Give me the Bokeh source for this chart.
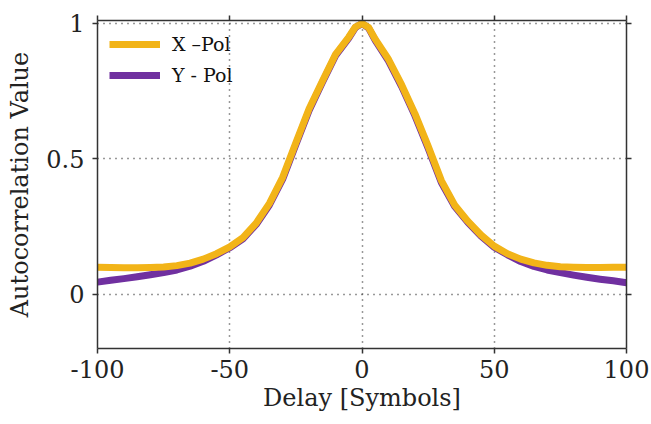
from bokeh.plotting import figure
from bokeh.models import Range1d, LinearAxis, FixedTicker, Legend, LegendItem, CustomJSTickFormatter
from bokeh.embed import file_html
from bokeh.resources import INLINE

delay = [-100, -95, -90, -85, -80, -75, -70, -65, -60, -55, -50, -45, -40, -35, -30, -25, -20, -15, -10, -5, -2.5,
         0, 2.5, 5, 10, 15, 20, 25, 30, 35, 40, 45, 50, 55, 60, 65, 70, 75, 80, 85, 90, 95, 100]
x_pol = [0.100, 0.099, 0.098, 0.098, 0.099, 0.101, 0.106, 0.115, 0.130, 0.150, 0.175, 0.209, 0.263, 0.336, 0.432,
         0.560, 0.685, 0.787, 0.886, 0.950, 0.987,
         1.000, 0.985, 0.942, 0.868, 0.773, 0.667, 0.547, 0.420, 0.330, 0.270, 0.219,
         0.178, 0.150, 0.130, 0.116, 0.107, 0.102, 0.100, 0.099, 0.099, 0.100, 0.100]
y_pol = [0.045, 0.052, 0.058, 0.065, 0.072, 0.080, 0.090, 0.104, 0.122, 0.146, 0.172, 0.205, 0.258, 0.330, 0.425,
         0.553, 0.679, 0.782, 0.881, 0.946, 0.985,
         1.000, 0.983, 0.938, 0.862, 0.767, 0.660, 0.540, 0.413, 0.325, 0.266, 0.215,
         0.174, 0.146, 0.121, 0.103, 0.090, 0.080, 0.071, 0.063, 0.056, 0.050, 0.043]
x_ticks = [-100, -50, 0, 50, 100]
y_ticks = [0, 0.5, 1]
series_names = ["X \u2013Pol", "Y - Pol"]

FONT = "DejaVu Serif"
AX = "#333333"

p = figure(width=651, height=424, output_backend="svg", toolbar_location=None,
           x_range=Range1d(-100, 100), y_range=Range1d(-0.2, 1.011),
           min_border_left=97, min_border_right=25, min_border_top=20, min_border_bottom=76)
p.outline_line_color = None
p.background_fill_color = "white"
p.border_fill_color = "white"

ly = p.line(delay, y_pol, line_color="#7030A0", line_width=7, line_join="round")
lx = p.line(delay, x_pol, line_color="#F2B418", line_width=7, line_join="round")

for ax in p.xaxis:
    ax.ticker = FixedTicker(ticks=x_ticks)
    ax.axis_label = "Delay [Symbols]"
    ax.formatter = CustomJSTickFormatter(code="return String(tick);")
for ax in p.yaxis:
    ax.ticker = FixedTicker(ticks=y_ticks)
    ax.axis_label = "Autocorrelation Value"
    ax.formatter = CustomJSTickFormatter(code="return String(tick);")

for ax in p.xaxis + p.yaxis:
    ax.axis_label_text_font = FONT
    ax.axis_label_text_font_style = "normal"
    ax.axis_label_text_font_size = "24px"
    ax.axis_label_text_color = "#222222"
    ax.major_label_text_font = FONT
    ax.major_label_text_font_size = "24px"
    ax.major_label_text_color = "#222222"
    ax.minor_tick_line_color = None
    ax.major_tick_out = 5
    ax.major_tick_in = 0
    ax.axis_line_color = AX
    ax.major_tick_line_color = AX
    ax.axis_line_width = 1.5
    ax.major_tick_line_width = 1.5
p.xaxis.major_label_standoff = 6
p.xaxis.axis_label_standoff = 3
p.yaxis.major_label_standoff = 8
p.yaxis.axis_label_standoff = 9
p.yaxis.major_label_orientation = "horizontal"

right = LinearAxis(ticker=FixedTicker(ticks=y_ticks), formatter=CustomJSTickFormatter(code="return '';"),
                   axis_line_color=AX, major_tick_line_color=AX, axis_line_width=1.5,
                   major_tick_line_width=1.5, major_tick_out=5, major_tick_in=0,
                   minor_tick_line_color=None, major_label_standoff=0)
p.add_layout(right, "right")
top = LinearAxis(ticker=FixedTicker(ticks=x_ticks), formatter=CustomJSTickFormatter(code="return '';"),
                 axis_line_color=AX, axis_line_width=1.5, major_tick_line_color=AX,
                 major_tick_line_width=1.5, major_tick_out=5, major_tick_in=0,
                 minor_tick_line_color=None, major_label_standoff=0)
p.add_layout(top, "above")

p.xgrid.ticker = FixedTicker(ticks=[-50, 0, 50])
p.ygrid.ticker = FixedTicker(ticks=[0, 0.5, 1])
for g in p.xgrid + p.ygrid:
    g.grid_line_color = "#333333"
    g.grid_line_dash = "1 5"
    g.grid_line_width = 1.5

legend = Legend(items=[LegendItem(label=series_names[0], renderers=[lx]),
                       LegendItem(label=series_names[1], renderers=[ly])],
                location="top_left", margin=12, padding=0, spacing=7,
                glyph_width=51, glyph_height=24, label_height=24, label_standoff=12,
                label_text_font=FONT, label_text_font_size="19px", label_text_color="#111111",
                border_line_color=None, background_fill_alpha=0)
p.add_layout(legend)

open("out.html", "w").write(file_html(p, INLINE))
